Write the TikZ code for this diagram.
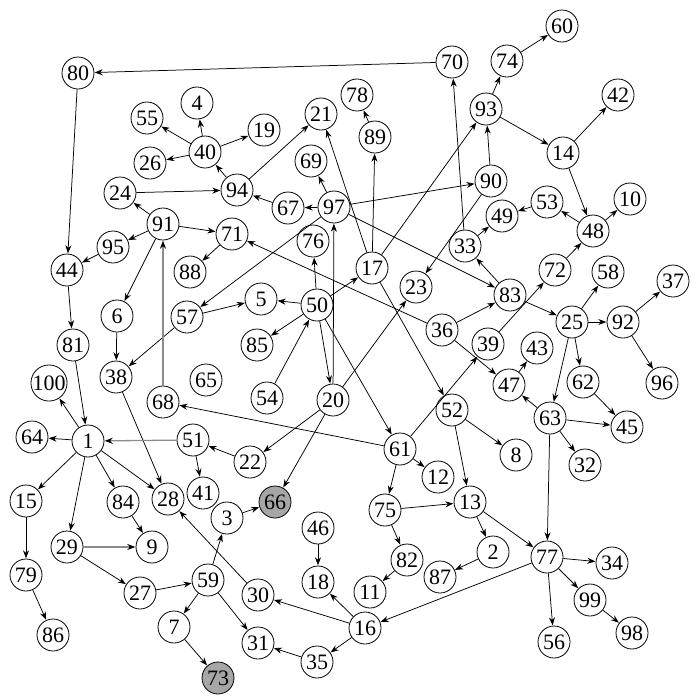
\documentclass[tikz,border=0pt]{standalone}
\usepackage{fontspec}
\setmainfont{Liberation Serif}
\usetikzlibrary{arrows.meta}
\tikzset{
  v/.style={circle,draw,line width=0.8pt,minimum size=32pt,inner sep=0pt,font=\fontsize{22}{22}\selectfont,fill=white},
  g/.style={v,fill=black!35},
  ed/.style={-{Stealth[length=8pt,width=6pt]},line width=0.75pt,shorten >=0.3pt},
  ged/.style={-{Stealth[length=8pt,width=6pt,color=black]},shorten >=0.3pt,draw=black!45,line width=1.3pt},
}
\begin{document}
\begin{tikzpicture}[x=1pt,y=-1pt]
\useasboundingbox (0,0) rectangle (692,697);
\foreach \n/\x/\y in {
60/562/26,70/452/62,74/507/61,80/78/73,42/618/95,78/357/95,4/197/103,55/147/118,
93/486/109,19/264/130,21/321/114,89/375/137,40/205/152,14/563/153,26/150/163,69/311/161,
90/491/181,94/237/190,24/120/193,67/288/208,97/334/207,53/547/202,10/630/199,49/502/216,
48/593/231,91/163/224,71/232/234,95/113/247,76/313/241,33/465/246,17/372/268,44/67/270,
88/190/272,72/555/270,58/608/272,23/416/287,37/673/281,6/117/316,57/187/317,5/261/299,
50/317/305,83/510/295,25/572/322,92/623/322,36/442/330,81/73/345,85/257/345,39/488/344,
43/537/348,38/116/377,65/206/380,62/583/382,96/662/383,100/49/383,47/509/385,68/163/402,
54/267/398,20/333/400,52/452/410,63/550/418,45/627/427,8/516/455,1/88/441,64/32/437,
51/193/440,22/250/462,61/400/449,32/585/465,12/438/477,28/168/499,41/203/493,84/123/502,
15/26/501,3/227/518,75/385/510,13/470/502,46/318/528,9/152/547,29/67/547,
2/493/552,77/547/557,34/612/563,82/407/560,87/440/577,79/26/575,18/318/582,11/370/592,
27/140/593,59/208/580,30/258/595,99/590/600,7/174/627,16/365/628,31/258/643,98/632/633,
56/554/642,35/317/662,86/53/635}
  \node[v] (n\n) at (\x,\y) {\n};
\node[g] (n66) at (275,502) {66};
\node[g] (n73) at (218,678) {73};
\foreach \a/\b in {
70/80,80/44,33/70,74/60,93/74,93/14,14/42,14/48,90/93,17/93,97/90,90/23,53/49,48/53,48/10,
33/49,83/33,72/48,39/72,97/83,36/71,36/83,36/47,83/25,25/58,25/92,92/37,92/96,25/62,25/63,
62/45,63/45,63/47,47/43,63/32,63/77,61/39,17/52,52/8,52/13,61/12,61/75,61/68,75/13,75/82,
82/11,13/2,13/77,2/87,77/34,77/99,99/98,77/56,77/16,16/18,46/18,16/30,16/35,35/31,59/31,
30/28,59/3,3/66,27/59,59/7,7/73,29/27,84/9,1/84,1/29,1/15,15/79,79/86,1/28,38/28,
1/64,1/100,81/1,44/81,95/44,91/95,91/24,91/71,91/6,6/38,57/38,57/5,71/88,22/51,51/41,
20/22,20/66,20/97,20/23,50/61,50/17,50/5,50/85,54/50,50/76,97/57,97/67,67/94,97/69,17/21,
17/89,89/78,94/21,94/40,40/4,40/55,40/26,40/19,24/94,50/20}
  \draw[ed] (n\a) -- (n\b);
\draw[ged] (n68) -- (n91);
\draw[ged] (n51) -- (n1);
\draw[ged] (n29) -- (n9);
\end{tikzpicture}
\end{document}
